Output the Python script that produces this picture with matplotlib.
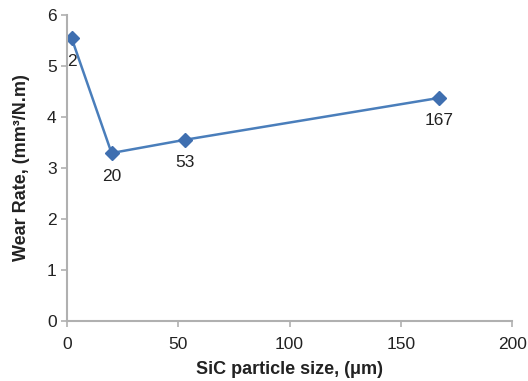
import matplotlib.pyplot as plt

plt.rcParams['font.family'] = ['Liberation Sans', 'DejaVu Sans']

# particle size (um) vs wear rate (mm3/N.m)
sizes = [2, 20, 53, 167]
wear_rate = [5.55, 3.29, 3.55, 4.37]
point_labels = ['2', '20', '53', '167']

fig = plt.figure(figsize=(5.28, 3.81), dpi=100)
ax = fig.add_axes([0.127, 0.158, 0.843, 0.803])

ax.plot(sizes, wear_rate, color='#4a7ebb', linewidth=1.8, marker='D', markersize=7.5,
        markerfacecolor='#3f6fb0', markeredgecolor='#3f6fb0')

# point labels under each marker
offsets = [(0, -17), (0, -17), (0, -16), (0, -16)]
for x, y, lab, off in zip(sizes, wear_rate, point_labels, offsets):
    ax.annotate(lab, (x, y), xytext=off, textcoords='offset points',
                ha='center', va='center', fontsize=12.5, color='#222222')

ax.set_xlim(0, 200)
ax.set_ylim(0, 6)
ax.set_xticks([0, 50, 100, 150, 200])
ax.set_yticks(range(0, 7))

for s in ['top', 'right']:
    ax.spines[s].set_visible(False)
for s in ['left', 'bottom']:
    ax.spines[s].set_color('#b0b0b0')
    ax.spines[s].set_linewidth(1.5)
ax.tick_params(colors='#b0b0b0', labelcolor='#222222', labelsize=12.5, length=4, width=1.2)
ax.tick_params(axis='x', pad=8)

ax.set_xlabel('SiC particle size, (μm)', fontsize=13, fontweight='bold', color='#222222', labelpad=6)
ax.set_ylabel('Wear Rate, (mm³/N.m)', fontsize=13, fontweight='bold', color='#222222', labelpad=12)

plt.savefig('out.png', dpi=100)
